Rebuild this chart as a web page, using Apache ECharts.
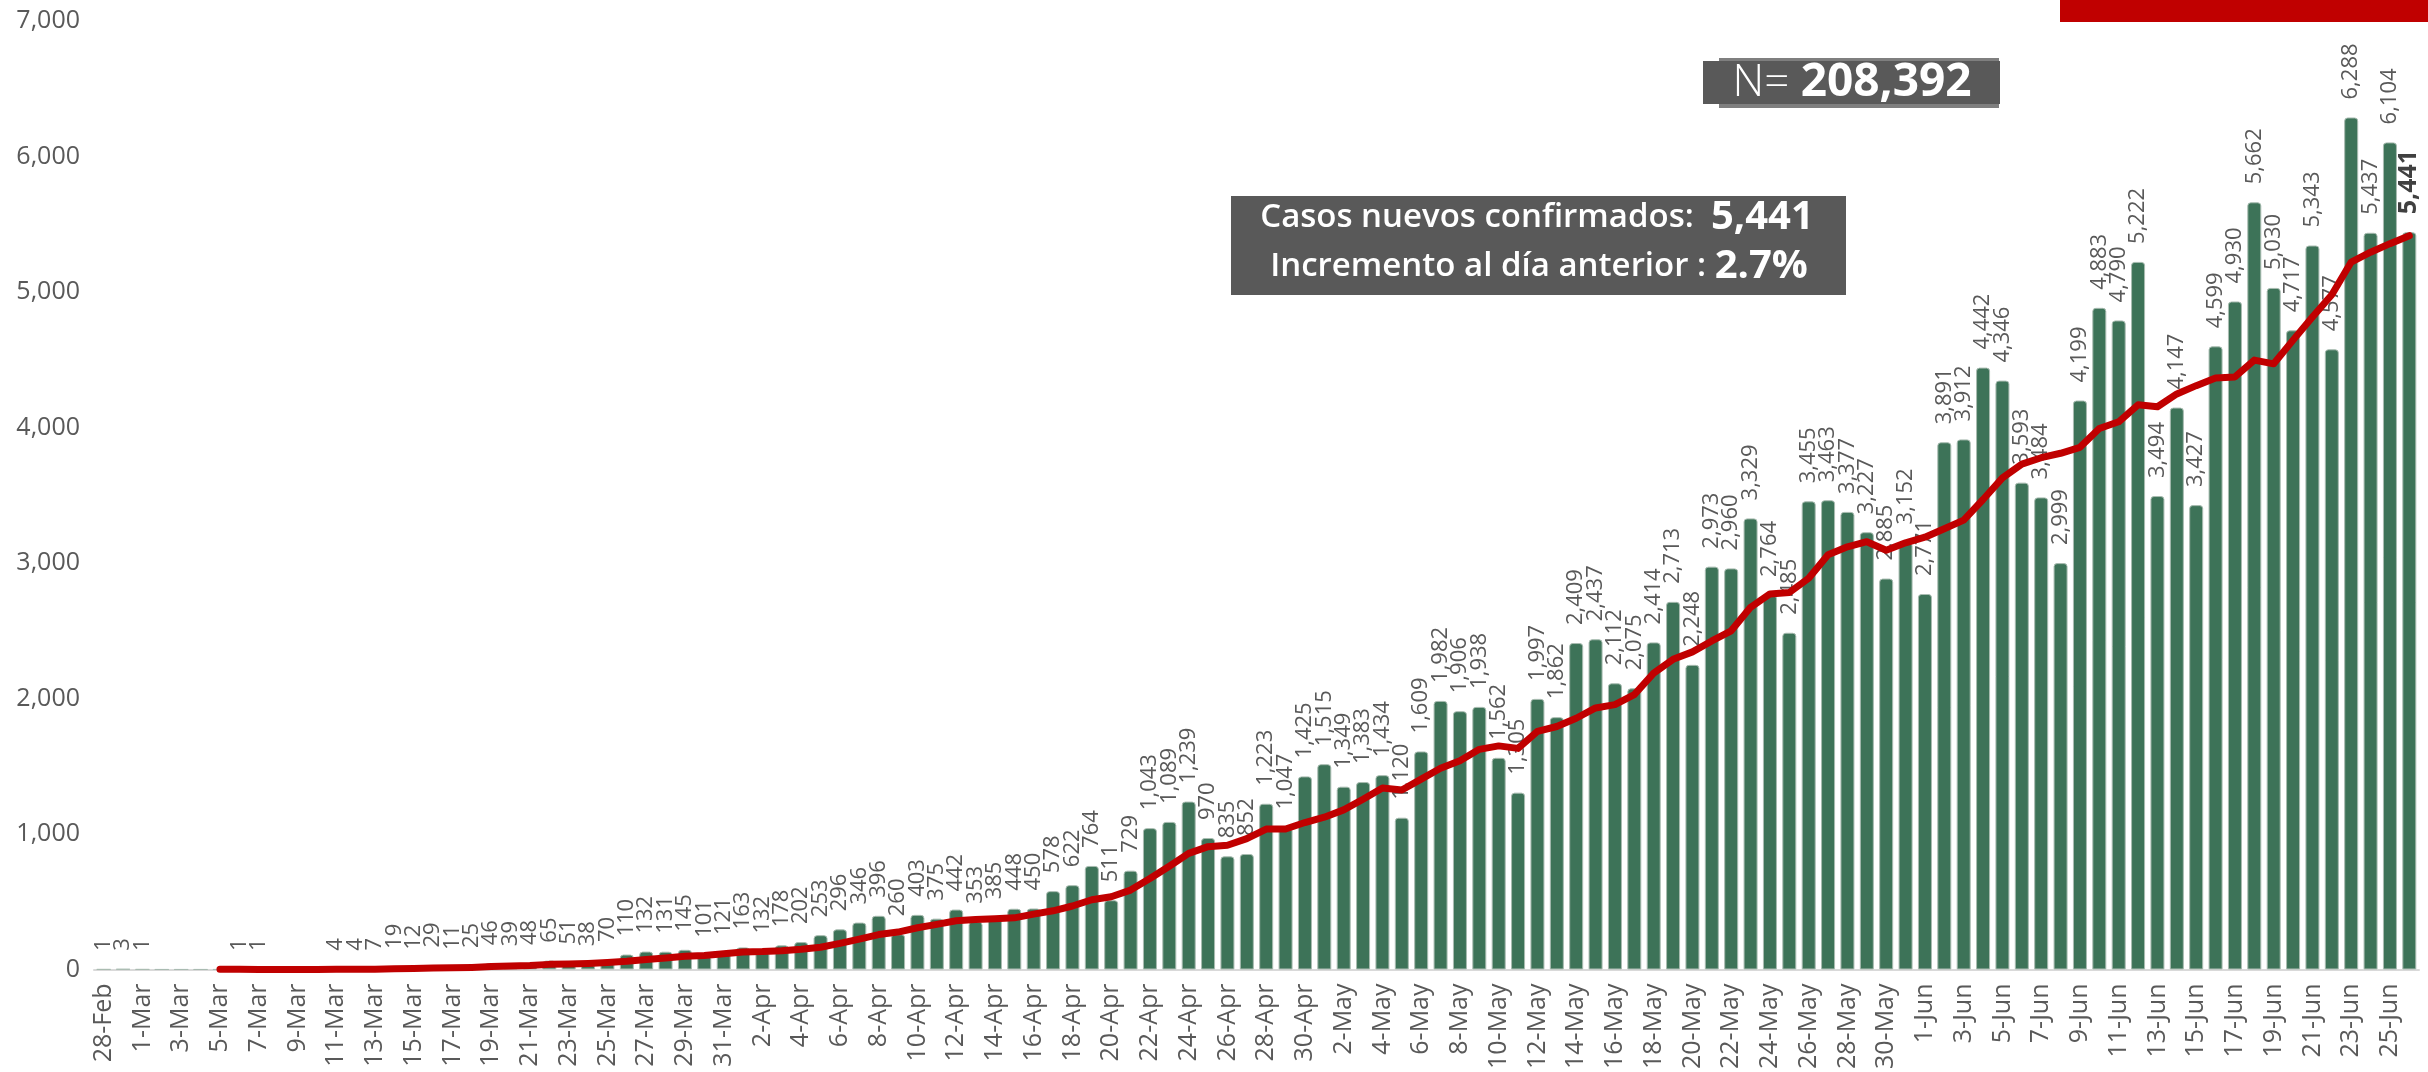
<!DOCTYPE html>
<html>

<head>
    <meta charset="utf-8">
    <title>Casos nuevos confirmados</title>
    <script src="https://cdn.jsdelivr.net/npm/echarts@6/dist/echarts.min.js"></script>
    <style>
        html, body { margin: 0; padding: 0; background: #fff; }
    </style>
</head>

<body>
    <div id="main" style="width: 2428px;height:1072px;"></div>
    <script type="text/javascript">
    // fechas (28-Feb .. 26-Jun)
    var dias = [
        '28-Feb', '29-Feb',
        '1-Mar', '2-Mar', '3-Mar', '4-Mar', '5-Mar', '6-Mar', '7-Mar', '8-Mar', '9-Mar', '10-Mar',
        '11-Mar', '12-Mar', '13-Mar', '14-Mar', '15-Mar', '16-Mar', '17-Mar', '18-Mar', '19-Mar', '20-Mar',
        '21-Mar', '22-Mar', '23-Mar', '24-Mar', '25-Mar', '26-Mar', '27-Mar', '28-Mar', '29-Mar', '30-Mar', '31-Mar',
        '1-Apr', '2-Apr', '3-Apr', '4-Apr', '5-Apr', '6-Apr', '7-Apr', '8-Apr', '9-Apr', '10-Apr',
        '11-Apr', '12-Apr', '13-Apr', '14-Apr', '15-Apr', '16-Apr', '17-Apr', '18-Apr', '19-Apr', '20-Apr',
        '21-Apr', '22-Apr', '23-Apr', '24-Apr', '25-Apr', '26-Apr', '27-Apr', '28-Apr', '29-Apr', '30-Apr',
        '1-May', '2-May', '3-May', '4-May', '5-May', '6-May', '7-May', '8-May', '9-May', '10-May',
        '11-May', '12-May', '13-May', '14-May', '15-May', '16-May', '17-May', '18-May', '19-May', '20-May',
        '21-May', '22-May', '23-May', '24-May', '25-May', '26-May', '27-May', '28-May', '29-May', '30-May', '31-May',
        '1-Jun', '2-Jun', '3-Jun', '4-Jun', '5-Jun', '6-Jun', '7-Jun', '8-Jun', '9-Jun', '10-Jun',
        '11-Jun', '12-Jun', '13-Jun', '14-Jun', '15-Jun', '16-Jun', '17-Jun', '18-Jun', '19-Jun', '20-Jun',
        '21-Jun', '22-Jun', '23-Jun', '24-Jun', '25-Jun', '26-Jun'
    ];

    // casos nuevos por dia
    var casos = [
        1, 3,
        1, 0, 0, 0, 0, 1, 1, 0, 0, 0,
        4, 4, 7, 19, 12, 29, 11, 25, 46, 39,
        48, 65, 51, 38, 70, 110, 132, 131, 145, 101, 121,
        163, 132, 178, 202, 253, 296, 346, 396, 260, 403,
        375, 442, 353, 385, 448, 450, 578, 622, 764, 511,
        729, 1043, 1089, 1239, 970, 835, 852, 1223, 1047, 1425,
        1515, 1349, 1383, 1434, 1120, 1609, 1982, 1906, 1938, 1562,
        1305, 1997, 1862, 2409, 2437, 2112, 2075, 2414, 2713, 2248,
        2973, 2960, 3329, 2764, 2485, 3455, 3463, 3377, 3227, 2885, 3152,
        2771, 3891, 3912, 4442, 4346, 3593, 3484, 2999, 4199, 4883,
        4790, 5222, 3494, 4147, 3427, 4599, 4930, 5662, 5030, 4717,
        5343, 4577, 6288, 5437, 6104, 5441
    ];

    // promedio movil 7 dias (linea roja)
    var promedio = [
        '-', '-', '-', '-', '-', '-',
        0.7, 0.7, 0.4, 0.3,
        0.3, 0.3, 0.9, 1.4, 2.3, 4.9, 6.6, 10.7, 12.3, 15.3,
        21.3, 25.9, 30, 37.6, 40.7, 44.6, 51, 60.1, 73.4, 85.3,
        96.7, 103.9, 115.7, 129, 132.1, 138.7, 148.9, 164.3, 192.1, 224.3,
        257.6, 275.9, 308, 332.7, 359.7, 367.9, 373.4, 380.9, 408, 433,
        468.3, 514.3, 536.9, 586, 671, 762.3, 856.7, 906.4, 916.6, 965.3,
        1035.9, 1036.4, 1084.4, 1123.9, 1178, 1256.3, 1339.4, 1324.7, 1405, 1484.6,
        1540.4, 1624.6, 1650.1, 1631.7, 1757, 1793.1, 1854.1, 1930, 1954.9, 2028.1,
        2186.6, 2288.9, 2344, 2424.6, 2499.3, 2673.1, 2771.6, 2781.7, 2887.7, 3061.3,
        3119, 3157.1, 3093.7, 3149.1, 3190, 3252.3, 3316.4, 3468.6, 3628.4, 3729.6,
        3777, 3809.6, 3853.6, 3992.3, 4042, 4167.1, 4153, 4247.7, 4308.9, 4366,
        4372.7, 4497.3, 4469.9, 4644.6, 4815.4, 4979.7, 5221, 5293.4, 5356.6, 5415.3
    ];

    var fuente = '"Open Sans", sans-serif';
    var gris = '#595959';

    var fmt = function (v) {
        return Number(v).toLocaleString('en-US');
    };

    // el ultimo dia va en negrita
    var barData = casos.map(function (v, i) {
        if (i === casos.length - 1) {
            return {
                value: v,
                label: { fontWeight: 'bold', fontSize: 25, color: '#404040' }
            };
        }
        return v;
    });

    var myChart = echarts.init(document.getElementById('main'));

    var option = {
        animation: false,
        textStyle: { fontFamily: fuente },
        grid: { left: 94, right: 9, top: 21, bottom: 100, containLabel: false },
        xAxis: {
            type: 'category',
            data: dias,
            axisLine: { lineStyle: { color: '#d9d9d9', width: 2 } },
            axisTick: { interval: 1, alignWithLabel: true, length: 8, lineStyle: { color: '#d9d9d9', width: 2 } },
            axisLabel: {
                interval: 1,
                rotate: 90,
                margin: 14,
                fontSize: 25,
                color: gris,
                fontFamily: fuente
            }
        },
        yAxis: {
            type: 'value',
            min: 0,
            max: 7000,
            interval: 1000,
            axisLine: { show: false },
            axisTick: { show: false },
            splitLine: { show: false },
            axisLabel: {
                fontSize: 25,
                color: gris,
                margin: 14,
                fontFamily: fuente,
                formatter: fmt
            }
        },
        series: [{
                name: 'Casos',
                type: 'bar',
                data: barData,
                barWidth: 14,
                itemStyle: {
                    color: '#3d7358',
                    borderRadius: [3, 3, 0, 0],
                    borderColor: '#a9bcb1',
                    borderWidth: 1
                },
                label: {
                    show: true,
                    position: 'top',
                    rotate: 90,
                    align: 'left',
                    verticalAlign: 'middle',
                    distance: 18,
                    fontSize: 22,
                    color: gris,
                    fontFamily: fuente,
                    formatter: function (p) {
                        return p.value ? fmt(p.value) : '';
                    }
                },
                z: 2
            },
            {
                name: 'Promedio',
                type: 'line',
                data: promedio,
                showSymbol: false,
                symbol: 'none',
                lineStyle: { color: '#c00000', width: 7, join: 'round', cap: 'round' },
                z: 5
            }
        ],
        graphic: [
            { type: 'rect', shape: { x: 2060, y: 0, width: 368, height: 22 }, style: { fill: '#c00000' } },
            { type: 'rect', shape: { x: 1719, y: 58, width: 280, height: 50 }, style: { fill: '#7f7f7f' } },
            { type: 'rect', shape: { x: 1703, y: 61, width: 297, height: 43 }, style: { fill: '#595959' } },
            {
                type: 'text', x: 1852, y: 83,
                style: {
                    text: '{n|N= }{v|208,392}',
                    align: 'center',
                    verticalAlign: 'middle',
                    rich: {
                        n: { fontSize: 44, fontWeight: 300, fill: '#fff', fontFamily: fuente },
                        v: { fontSize: 46, fontWeight: 'bold', fill: '#fff', fontFamily: fuente }
                    }
                }
            },
            { type: 'rect', shape: { x: 1231, y: 196, width: 615, height: 99 }, style: { fill: '#595959' } },
            {
                type: 'text', x: 1537, y: 218,
                style: {
                    text: '{t|Casos nuevos confirmados:  }{v|5,441}',
                    align: 'center',
                    verticalAlign: 'middle',
                    rich: {
                        t: { fontSize: 33, fontWeight: 600, fill: '#fff', fontFamily: fuente },
                        v: { fontSize: 40, fontWeight: 'bold', fill: '#fff', fontFamily: fuente }
                    }
                }
            },
            {
                type: 'text', x: 1539, y: 267,
                style: {
                    text: '{t|Incremento al día anterior : }{v|2.7%}',
                    align: 'center',
                    verticalAlign: 'middle',
                    rich: {
                        t: { fontSize: 33, fontWeight: 600, fill: '#fff', fontFamily: fuente },
                        v: { fontSize: 40, fontWeight: 'bold', fill: '#fff', fontFamily: fuente }
                    }
                }
            }
        ]
    };

    myChart.setOption(option);
    </script>
</body>

</html>
